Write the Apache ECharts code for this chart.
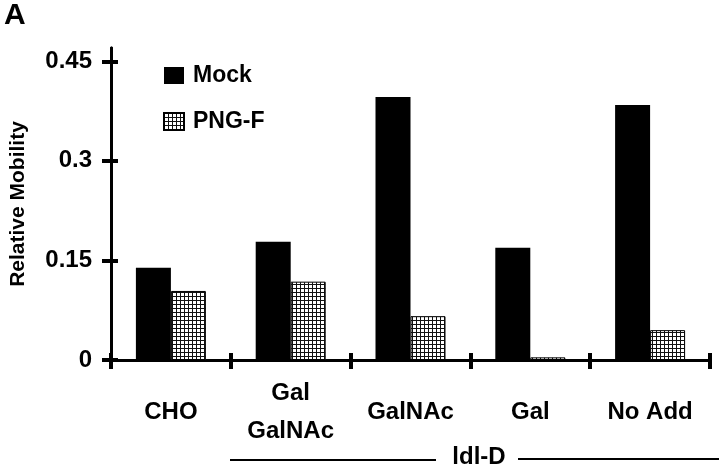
<!DOCTYPE html>
<html>
<head>
<meta charset="utf-8">
<script src="https://cdn.jsdelivr.net/npm/echarts@6/dist/echarts.min.js"></script>
<style>
    html, body { margin: 0; padding: 0; background: #fff; }
    #chart { width: 720px; height: 469px; }
</style>
</head>
<body>
<div id="chart"></div>
<script>
    const categories = ['CHO', 'Gal\nGalNAc', 'GalNAc', 'Gal', 'No Add'];
    const mockValues = [0.139, 0.178, 0.396, 0.169, 0.384];
    const pngfValues = [0.104, 0.118, 0.066, 0.004, 0.045];
    const yTicks = [0, 0.15, 0.3, 0.45];

    const FONT = '"Liberation Sans", Arial, sans-serif';

    function makeGridPattern() {
        const c = document.createElement('canvas');
        c.width = 4;
        c.height = 4;
        const ctx = c.getContext('2d');
        ctx.fillStyle = '#fff';
        ctx.fillRect(0, 0, 4, 4);
        ctx.fillStyle = '#111';
        ctx.fillRect(0, 0, 4, 1);
        ctx.fillRect(0, 0, 1, 4);
        return { image: c, repeat: 'repeat' };
    }
    const gridFill = makeGridPattern();

    const labelStyle = { color: '#000', fontFamily: FONT, fontWeight: 'bold', fontSize: 24 };
    const lineStyle = { color: '#000', width: 3 };
    const tickLine = { color: '#000', width: 4 };

    const chart = echarts.init(document.getElementById('chart'));
    chart.setOption({
        animation: false,
        grid: { left: 107, right: 10, top: 48, bottom: 109 },
        legend: {
            orient: 'vertical',
            left: 158,
            top: 59,
            itemWidth: 20,
            itemHeight: 17,
            itemGap: 23,
            icon: 'rect',
            textStyle: { color: '#000', fontFamily: FONT, fontWeight: 'bold', fontSize: 23, padding: [0, 0, 0, 4] },
            data: ['Mock', 'PNG-F']
        },
        xAxis: [
            {
                type: 'category',
                data: categories,
                axisLine: { lineStyle },
                axisTick: { show: true, interval: 0, length: 9, lineStyle: tickLine },
                axisLabel: Object.assign({ margin: 52, verticalAlign: 'middle', lineHeight: 38, interval: 0 }, labelStyle)
            },
            {
                type: 'category',
                data: categories,
                position: 'bottom',
                axisLine: { lineStyle },
                axisTick: { show: true, interval: 0, inside: true, length: 7, lineStyle: tickLine },
                axisLabel: { show: false }
            }
        ],
        yAxis: [
            {
                type: 'value',
                min: 0,
                max: 0.47,
                interval: 0.15,
                name: 'Relative Mobility',
                nameLocation: 'middle',
                nameGap: 82,
                nameRotate: 90,
                nameTextStyle: Object.assign({}, labelStyle, { fontSize: 21 }),
                splitLine: { show: false },
                axisLine: { show: true, lineStyle },
                axisTick: { show: true, length: 9, customValues: yTicks, lineStyle: tickLine },
                axisLabel: Object.assign({ margin: 19, customValues: yTicks, formatter: (v) => String(v) }, labelStyle)
            },
            {
                type: 'value',
                min: 0,
                max: 0.47,
                interval: 0.15,
                position: 'left',
                splitLine: { show: false },
                axisLine: { show: true, lineStyle },
                axisTick: { show: true, inside: true, length: 7, customValues: yTicks, lineStyle: tickLine },
                axisLabel: { show: false }
            }
        ],
        series: [
            {
                name: 'Mock',
                type: 'bar',
                data: mockValues,
                barWidth: 35,
                barGap: '0%',
                itemStyle: { color: '#000' }
            },
            {
                name: 'PNG-F',
                type: 'bar',
                data: pngfValues,
                barWidth: 35,
                barGap: '0%',
                itemStyle: { color: gridFill, borderColor: '#000', borderWidth: 1 }
            }
        ],
        graphic: [
            { type: 'text', left: 4, top: 1, style: { text: 'A', font: 'bold 30px ' + FONT, fill: '#000' } },
            { type: 'line', shape: { x1: 230, y1: 460, x2: 436, y2: 460 }, style: { stroke: '#000', lineWidth: 2 } },
            { type: 'text', x: 479, y: 457, style: { text: 'ldl-D', font: 'bold 24px ' + FONT, fill: '#000', align: 'center', verticalAlign: 'middle' } },
            { type: 'line', shape: { x1: 518, y1: 459, x2: 719, y2: 459 }, style: { stroke: '#000', lineWidth: 2 } }
        ]
    });
</script>
</body>
</html>
